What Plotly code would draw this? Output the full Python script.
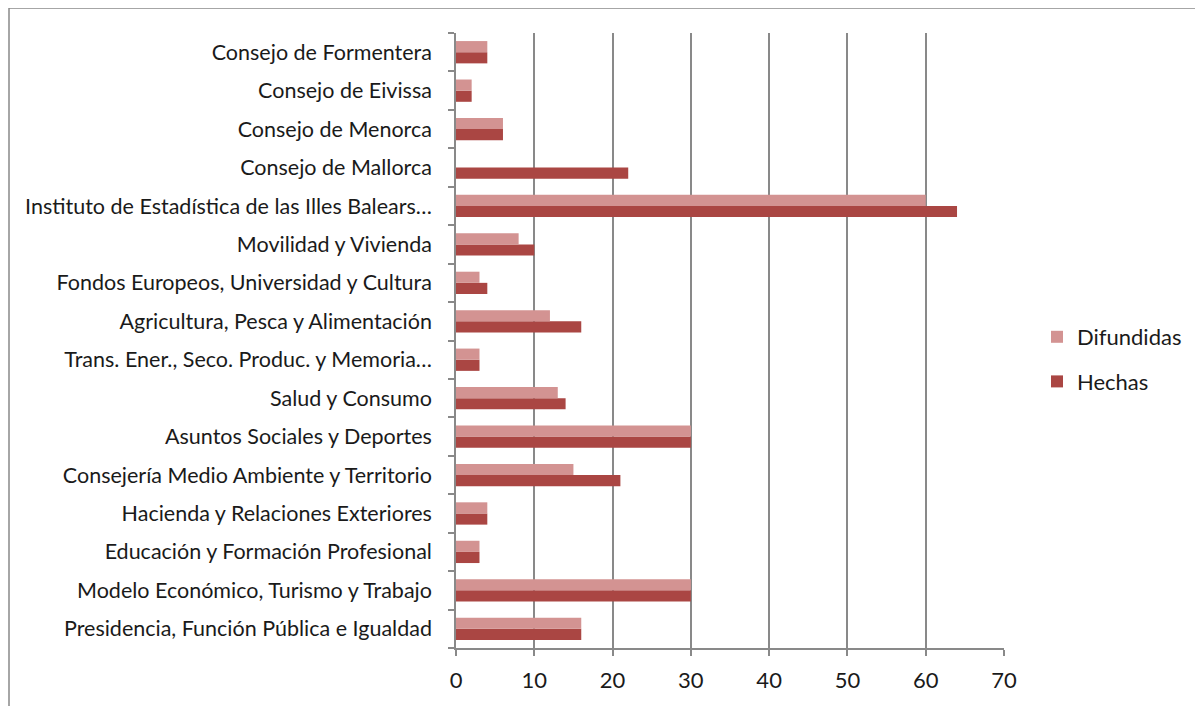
import plotly.graph_objects as go

# Categories, bottom to top as drawn
categorias = [
    "Presidencia, Función Pública e Igualdad",
    "Modelo Económico, Turismo y Trabajo",
    "Educación y Formación Profesional",
    "Hacienda y Relaciones Exteriores",
    "Consejería Medio Ambiente y Territorio",
    "Asuntos Sociales y Deportes",
    "Salud y Consumo",
    "Trans. Ener., Seco. Produc. y Memoria…",
    "Agricultura, Pesca y Alimentación",
    "Fondos Europeos, Universidad y Cultura",
    "Movilidad y Vivienda",
    "Instituto de Estadística de las Illes Balears…",
    "Consejo de Mallorca",
    "Consejo de Menorca",
    "Consejo de Eivissa",
    "Consejo de Formentera",
]

hechas = [16, 30, 3, 4, 21, 30, 14, 3, 16, 4, 10, 64, 22, 6, 2, 4]
difundidas = [16, 30, 3, 4, 15, 30, 13, 3, 12, 3, 8, 60, 0, 6, 2, 4]

x_ticks = [0, 10, 20, 30, 40, 50, 60, 70]

fig = go.Figure()

# Hechas first so it sits below Difundidas within each group
fig.add_trace(go.Bar(
    y=categorias, x=hechas, name="Hechas", orientation="h",
    marker=dict(color="#aa4643", line=dict(width=0)),
    legendgroup="h", legendrank=2,
))
fig.add_trace(go.Bar(
    y=categorias, x=difundidas, name="Difundidas", orientation="h",
    marker=dict(color="#d39392", line=dict(width=0)),
    legendgroup="d", legendrank=1,
))

# page has an 8px body margin, so work in figure coords = page - 8
OFF = 8
W, H = 1203 - OFF, 706 - OFF
L, R, T, B = 456 - OFF, 1004 - OFF, 33 - OFF, 648 - OFF
pw, ph = R - L, B - T

fig.update_layout(
    width=W, height=H,
    margin=dict(l=L, r=W - R, t=T, b=H - B, autoexpand=False),
    barmode="group",
    bargap=0.42,
    bargroupgap=0,
    plot_bgcolor="white",
    paper_bgcolor="white",
    font=dict(family="Lato, Open Sans, sans-serif", size=22, color="#1a1a1a"),
    legend=dict(
        x=(1037 - OFF - L) / pw, y=(B - (316 - OFF)) / ph,
        xanchor="left", yanchor="top",
        traceorder="grouped",
        tracegroupgap=13,
        font=dict(size=22),
        bgcolor="rgba(0,0,0,0)",
    ),
    xaxis=dict(
        range=[0, 70],
        tickvals=x_ticks,
        showgrid=True, gridcolor="#898989", gridwidth=1.5,
        zeroline=False,
        showline=True, linecolor="#898989", linewidth=1.5,
        ticks="outside", ticklen=6, tickcolor="#898989", tickwidth=1.5,
        ticklabelstandoff=6,
        tickfont=dict(size=22),
        automargin=False,
        fixedrange=True,
    ),
    yaxis=dict(
        categoryorder="array", categoryarray=categorias,
        tickson="boundaries",
        showgrid=False,
        showline=True, linecolor="#898989", linewidth=1.5,
        ticks="outside", ticklen=6, tickcolor="#898989", tickwidth=1.5,
        ticklabelstandoff=18,
        tickfont=dict(size=21.5),
        automargin=False,
    ),
    shapes=[dict(
        type="rect", xref="paper", yref="paper",
        x0=(9 - OFF - L) / pw, x1=(W + 10 - L) / pw,
        y0=(B - (H + 10)) / ph, y1=(B - (8 - OFF)) / ph,
        line=dict(color="#898989", width=1.5),
        fillcolor="rgba(0,0,0,0)",
        layer="below",
    )],
)

fig.write_html("out.html")
